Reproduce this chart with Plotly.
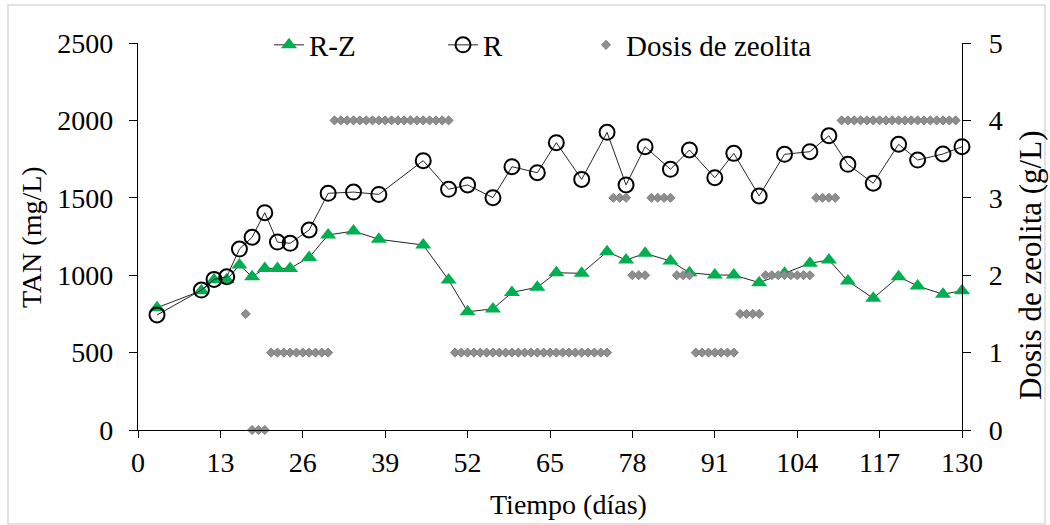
import plotly.graph_objects as go

# ---- data ----
dias = [3, 10, 12, 14, 16, 18, 20, 22, 24, 27, 30, 34, 38, 45, 49, 52, 56, 59, 63, 66,
        70, 74, 77, 80, 84, 87, 91, 94, 98, 102, 106, 109, 112, 116, 120, 123, 127, 130]
tan_rz = [790, 900, 970, 970, 1066, 990, 1044, 1044, 1044, 1115, 1260, 1285, 1232, 1195,
          969, 764, 782, 889, 922, 1016, 1012, 1152, 1098, 1141, 1092, 1016, 1001, 1001,
          952, 1012, 1077, 1098, 962, 851, 990, 930, 877, 900]
tan_r = [743, 904, 973, 990, 1169, 1245, 1404, 1214, 1206, 1292, 1529, 1537, 1522, 1740,
         1555, 1583, 1501, 1701, 1662, 1856, 1619, 1923, 1583, 1830, 1684, 1809, 1630,
         1787, 1512, 1781, 1798, 1901, 1716, 1594, 1846, 1744, 1783, 1830]

dosis_dias = [17, 18, 19, 20,
              21, 22, 23, 24, 25, 26, 27, 28, 29, 30,
              31, 32, 33, 34, 35, 36, 37, 38, 39, 40, 41, 42, 43, 44, 45, 46, 47, 48, 49,
              50, 51, 52, 53, 54, 55, 56, 57, 58, 59, 60, 61, 62, 63, 64, 65, 66, 67, 68,
              69, 70, 71, 72, 73, 74,
              75, 76, 77, 78, 79, 80, 81, 82, 83, 84, 85, 86, 87,
              88, 89, 90, 91, 92, 93, 94, 95, 96, 97, 98,
              99, 100, 101, 102, 103, 104, 105, 106, 107, 108, 109, 110,
              111, 112, 113, 114, 115, 116, 117, 118, 119, 120, 121, 122, 123, 124, 125,
              126, 127, 128, 129]
dosis = [1.5, 0, 0, 0,
         1, 1, 1, 1, 1, 1, 1, 1, 1, 1,
         4, 4, 4, 4, 4, 4, 4, 4, 4, 4, 4, 4, 4, 4, 4, 4, 4, 4, 4,
         1, 1, 1, 1, 1, 1, 1, 1, 1, 1, 1, 1, 1, 1, 1, 1, 1, 1, 1,
         1, 1, 1, 1, 1, 1,
         3, 3, 3, 2, 2, 2, 3, 3, 3, 3, 2, 2, 2,
         1, 1, 1, 1, 1, 1, 1, 1.5, 1.5, 1.5, 1.5,
         2, 2, 2, 2, 2, 2, 2, 2, 3, 3, 3, 3,
         4, 4, 4, 4, 4, 4, 4, 4, 4, 4, 4, 4, 4, 4, 4,
         4, 4, 4, 4]

x_ticks = [0, 13, 26, 39, 52, 65, 78, 91, 104, 117, 130]
y_ticks = [0, 500, 1000, 1500, 2000, 2500]
y2_ticks = [0, 1, 2, 3, 4, 5]

FONT = "Liberation Serif"
FS = 28

fig = go.Figure()
fig.add_trace(go.Scatter(
    x=dias, y=tan_rz, name="R-Z", mode="lines+markers", cliponaxis=False,
    line=dict(color="#262626", width=1),
    marker=dict(symbol="triangle-up", size=14, color="#00b050"),
    legend="legend", showlegend=True))
fig.add_trace(go.Scatter(
    x=dias, y=tan_r, name="R", mode="lines+markers", cliponaxis=False,
    line=dict(color="#262626", width=1),
    marker=dict(symbol="circle-open", size=15, color="black", line=dict(width=2)),
    legend="legend2", showlegend=True))
fig.add_trace(go.Scatter(
    x=dosis_dias, y=dosis, name="Dosis de zeolita", mode="markers", yaxis="y2",
    cliponaxis=False,
    marker=dict(symbol="diamond", size=7, color="#8e8e8e", line=dict(color="#7f7f7f", width=1)),
    legend="legend3", showlegend=True))

L, R, T, B = 138, 88, 43, 95
PW, PH = 1050 - L - R, 525 - T - B


def px_x(px):
    return (px - L) / PW


def px_y(py):
    return (525 - B - py) / PH


axis_common = dict(showline=True, linecolor="black", linewidth=1.3, ticks="outside",
                   tickcolor="black", tickwidth=1.3, showgrid=False, zeroline=False,
                   tickfont=dict(family=FONT, size=FS, color="black"))

legend_common = dict(orientation="h", yanchor="middle", y=px_y(45), xanchor="left",
                     bgcolor="rgba(0,0,0,0)", font=dict(family=FONT, size=29, color="black"))

fig.update_layout(
    width=1050, height=525,
    margin=dict(l=L, r=R, t=T, b=B),
    paper_bgcolor="white", plot_bgcolor="white",
    showlegend=True,
    font=dict(family=FONT, size=FS, color="black"),
    xaxis=dict(range=[0, 130], tickvals=x_ticks, ticklen=7, **axis_common),
    yaxis=dict(range=[0, 2500], tickvals=y_ticks, ticklen=8, ticklabelstandoff=10,
               **axis_common),
    yaxis2=dict(range=[0, 5], tickvals=y2_ticks, ticklen=8, ticklabelstandoff=12,
                overlaying="y", side="right", **axis_common),
    legend=dict(x=px_x(269), **legend_common),
    legend2=dict(x=px_x(443), **legend_common),
    legend3=dict(x=px_x(586), **legend_common),
    annotations=[
        dict(text="TAN (mg/L)", xref="paper", yref="paper", x=px_x(32), y=px_y(237),
             textangle=-90, showarrow=False, xanchor="center", yanchor="middle",
             font=dict(family=FONT, size=FS, color="black")),
        dict(text="Dosis de zeolita (g/L)", xref="paper", yref="paper", x=px_x(1030),
             y=px_y(266), textangle=-90, showarrow=False, xanchor="center", yanchor="middle",
             font=dict(family=FONT, size=31, color="black")),
        dict(text="Tiempo (días)", xref="paper", yref="paper", x=px_x(568), y=px_y(505),
             showarrow=False, xanchor="center", yanchor="middle",
             font=dict(family=FONT, size=FS, color="black")),
    ],
    shapes=[dict(type="rect", xref="paper", yref="paper",
                 x0=px_x(8), x1=px_x(1045), y0=px_y(524), y1=px_y(5),
                 line=dict(color="#d9d9d9", width=1.5), layer="below")],
)

fig.write_html("out.html")
